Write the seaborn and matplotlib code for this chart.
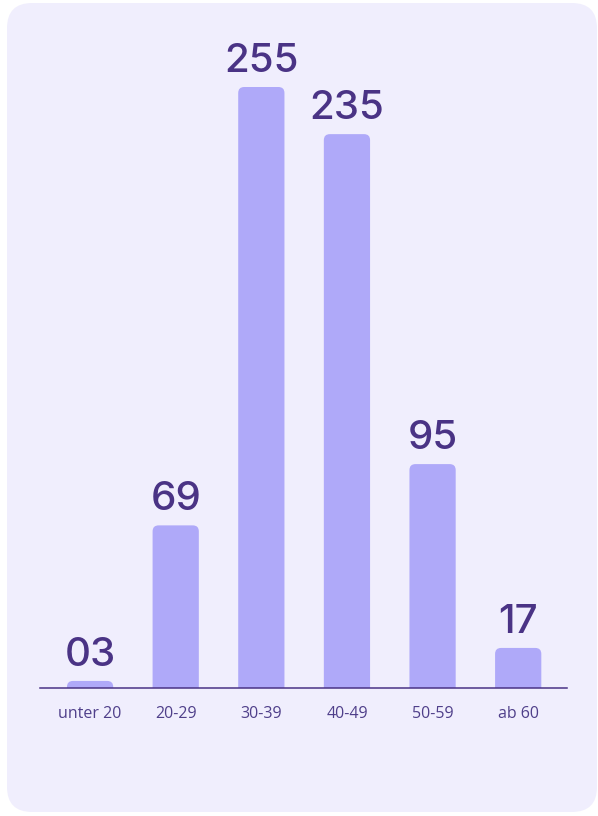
import matplotlib
matplotlib.use("Agg")
import matplotlib.pyplot as plt
from matplotlib.patches import FancyBboxPatch
import seaborn as sns
import pandas as pd

categories = ["unter 20", "20-29", "30-39", "40-49", "50-59", "ab 60"]
values = [3, 69, 255, 235, 95, 17]
value_labels = ["03", "69", "255", "235", "95", "17"]

BAR = "#AFA9F9"
PANEL = "#F0EEFD"
DARK = "#4A3385"
TICK = "#4F3F8A"

sns.set_theme(style="white")
plt.rcParams["font.family"] = ["Open Sans", "DejaVu Sans"]

fig = plt.figure(figsize=(5.98, 8.16), dpi=100)
fig.patch.set_facecolor("white")

W, H = 598, 816
panel = FancyBboxPatch((7 / W, 4 / H), 590 / W, 809 / H,
                       boxstyle="round,pad=0,rounding_size=0.042",
                       mutation_aspect=W / H,
                       transform=fig.transFigure, facecolor=PANEL,
                       edgecolor="none", zorder=-10)
fig.patches.append(panel)

base_px = 688
top_px = 30
ax = fig.add_axes([40 / W, (H - base_px) / H, 527 / W, (base_px - top_px) / H])
ax.set_facecolor("none")
ax.set_zorder(5)

df = pd.DataFrame({"cat": categories, "val": values})
sns.barplot(data=df, x="cat", y="val", color=BAR, width=0.54, ax=ax,
            saturation=1)

ymax = 255 * (base_px - top_px) / (base_px - 87)
ax.set_xlim(-0.585, 5.57)
ax.set_ylim(0, ymax)

# replace bars with rounded-top bars
xu_per_px = (5.57 + 0.585) / 527
yu_per_px = ymax / (base_px - top_px)
aspect = yu_per_px / xu_per_px
r = 6 * xu_per_px
bars = list(ax.patches)
for p in bars:
    x, w, h = p.get_x(), p.get_width(), p.get_height()
    p.remove()
    fb = FancyBboxPatch((x, -r * aspect), w, h + r * aspect,
                        boxstyle=f"round,pad=0,rounding_size={r}",
                        mutation_aspect=aspect, facecolor=BAR,
                        edgecolor="none", zorder=2)
    ax.add_patch(fb)

for i, (v, lab) in enumerate(zip(values, value_labels)):
    ax.annotate(lab, (i, v), xytext=(0, 5), textcoords="offset points",
                ha="center", va="bottom", fontsize=29, color=DARK,
                fontweight=500, family=["Inter", "DejaVu Sans"])

for s in ["top", "right", "left"]:
    ax.spines[s].set_visible(False)
ax.spines["bottom"].set_color(DARK)
ax.spines["bottom"].set_linewidth(1.1)
ax.set_yticks([])
ax.set_xlabel("")
ax.set_ylabel("")
ax.tick_params(axis="x", length=0, pad=13, labelsize=11.5, labelcolor=TICK)

fig.savefig("out.png", dpi=100, facecolor="white")
